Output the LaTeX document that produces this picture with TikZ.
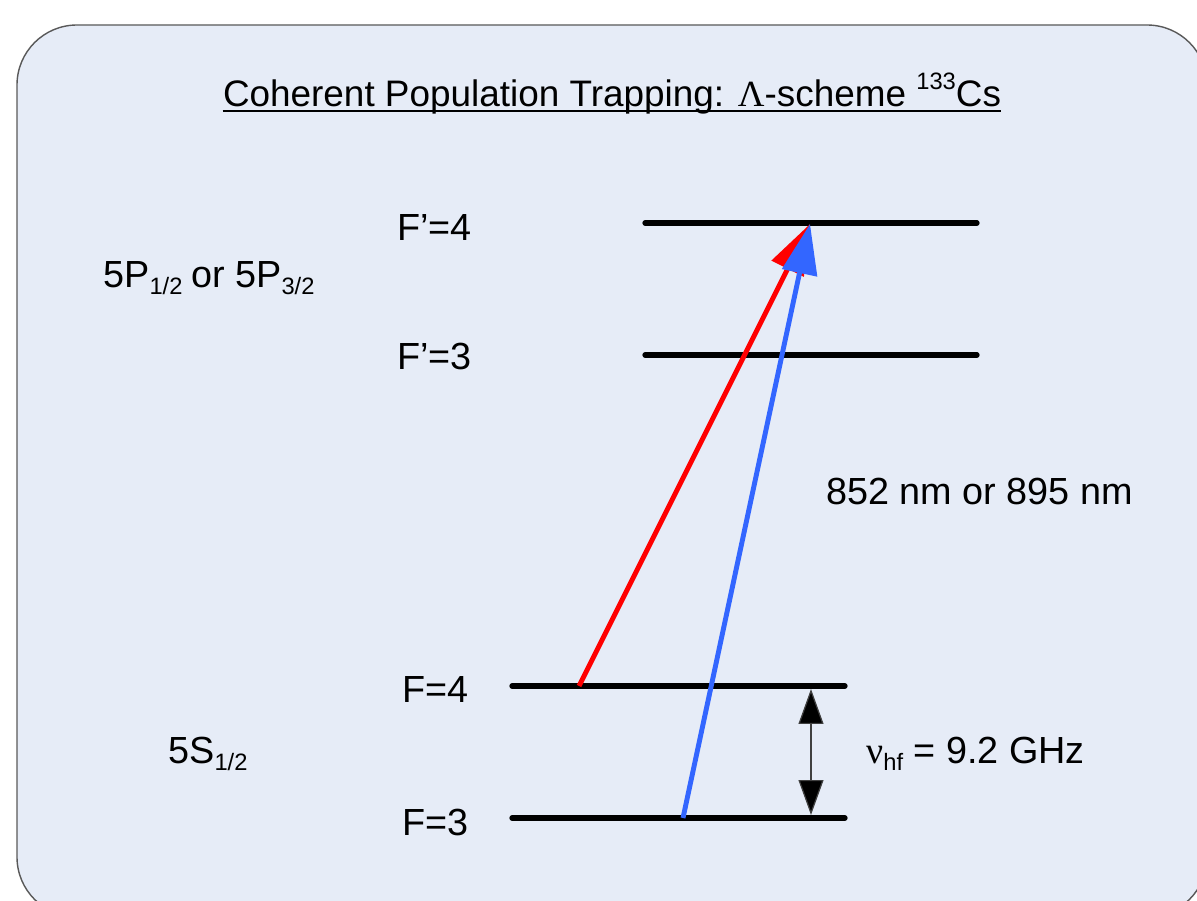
\documentclass[tikz,border=0pt]{standalone}
\usepackage{fontspec}
\setmainfont{Liberation Sans}
\newfontfamily\greekfont{Liberation Serif}
\usetikzlibrary{arrows.meta,positioning}
\definecolor{panel}{HTML}{E6ECF7}
\definecolor{beamblue}{HTML}{3366FF}
\newcommand{\lsub}[1]{\raisebox{-3.5pt}{\fontsize{13.5}{14}\selectfont #1}}
\newcommand{\lsup}[1]{\raisebox{10pt}{\fontsize{13.5}{14}\selectfont #1}}

\begin{document}
\begin{tikzpicture}[x=0.02cm, y=-0.02cm,
  lvl/.style={line width=3pt, line cap=round},
  lbl/.style={font=\fontsize{21.5}{24}\selectfont, inner sep=0pt},
  beam/.style={line width=2.8pt, draw=#1, -{Triangle[length=10mm, width=7mm, fill=#1]}},
  hfarr/.style={line width=0.7pt, draw=black!75,
                {Triangle[length=7mm, width=5mm, fill=black]}-{Triangle[length=7mm, width=5mm, fill=black]}}]
\useasboundingbox (0,0) rectangle (1197,901);
\begin{scope}
  \clip (0,0) rectangle (1197,901);
  \draw[draw=black!65, line width=0.8pt, fill=panel, rounded corners=1.2cm] (17,25) rectangle (1207,917);
\end{scope}
% title
\node[font=\fontsize{21}{24}\selectfont, inner sep=0pt, anchor=base] (title) at (612,107)
  {Coherent Population Trapping: {\greekfont Λ}-scheme \lsup{133}Cs};
\draw[line width=1.1pt] ([yshift=-2.5pt]title.base west) -- ([yshift=-2.5pt]title.base east);
% levels
\coordinate (e4a) at (645,223); \coordinate (e4b) at (977,223);
\coordinate (e3a) at (645,355); \coordinate (e3b) at (977,355);
\coordinate (g4a) at (512,686); \coordinate (g4b) at (845,686);
\coordinate (g3a) at (512,818); \coordinate (g3b) at (845,818);
\draw[lvl] (e4a) -- (e4b);
\draw[lvl] (e3a) -- (e3b);
\draw[lvl] (g4a) -- (g4b);
\draw[lvl] (g3a) -- (g3b);
\node[lbl, anchor=base east] (le4) at (472,241) {F’=4};
\node[lbl, anchor=base east] (le3) at (472,370) {F’=3};
\node[lbl, anchor=base east] (lg4) at (469,703) {F=4};
\node[lbl, anchor=base east] (lg3) at (469,835) {F=3};
\node[lbl, anchor=base west] (pstate) at (103,288) {5P\lsub{1/2}\hspace{-1pt} or 5P\lsub{3/2}};
\node[lbl, anchor=base west] (sstate) at (168,764) {5S\lsub{1/2}};
\node[lbl, anchor=base west] (wave) at (826,505) {852 nm or 895 nm};
\node[lbl, anchor=base west] (split) at (866,764) {{\greekfont ν}\lsub{hf} = 9.2 GHz};
% laser fields
\coordinate (tip) at (810,224);
\coordinate (redfoot) at (579,686);
\coordinate (bluefoot) at (683,818);
\draw[beam=red] (redfoot) -- (tip);
\draw[beam=beamblue] (bluefoot) -- (tip);
% hyperfine splitting
\coordinate (hftop) at (811,689);
\coordinate (hfbot) at (811,815);
\draw[hfarr] (hftop) -- (hfbot);
\end{tikzpicture}
\end{document}
